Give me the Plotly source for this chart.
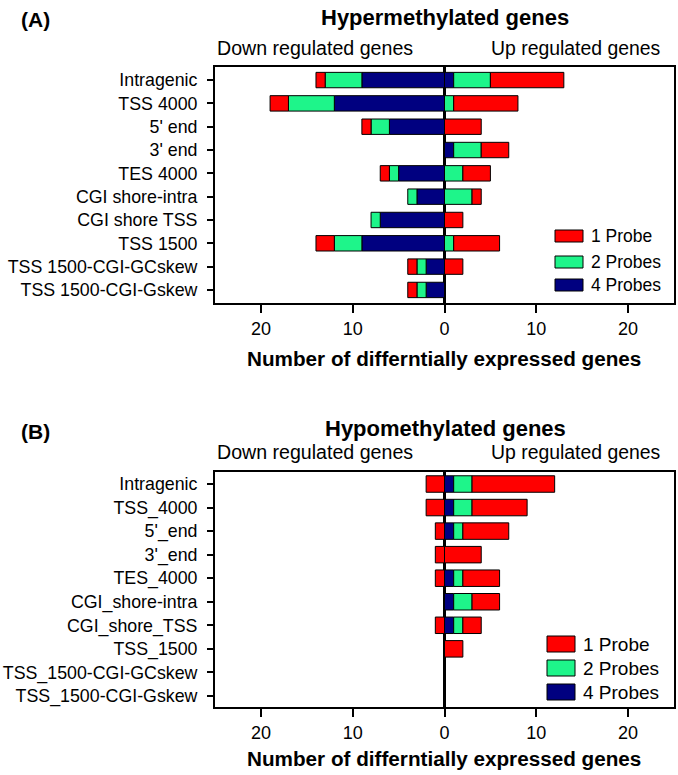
import plotly.graph_objects as go

# ---------------- data ----------------
categories_hyper = ["Intragenic", "TSS 4000", "5' end", "3' end", "TES 4000",
                    "CGI shore-intra", "CGI shore TSS", "TSS 1500",
                    "TSS 1500-CGI-GCskew", "TSS 1500-CGI-Gskew"]
hyper_down_4 = [9, 12, 6, 0, 5, 3, 7, 9, 2, 2]
hyper_down_2 = [4, 5, 2, 0, 1, 1, 1, 3, 1, 1]
hyper_down_1 = [1, 2, 1, 0, 1, 0, 0, 2, 1, 1]
hyper_up_4 = [1, 0, 0, 1, 0, 0, 0, 0, 0, 0]
hyper_up_2 = [4, 1, 0, 3, 2, 3, 0, 1, 0, 0]
hyper_up_1 = [8, 7, 4, 3, 3, 1, 2, 5, 2, 0]

categories_hypo = ["Intragenic", "TSS_4000", "5'_end", "3'_end", "TES_4000",
                   "CGI_shore-intra", "CGI_shore_TSS", "TSS_1500",
                   "TSS_1500-CGI-GCskew", "TSS_1500-CGI-Gskew"]
hypo_down_4 = [0, 0, 0, 0, 0, 0, 0, 0, 0, 0]
hypo_down_2 = [0, 0, 0, 0, 0, 0, 0, 0, 0, 0]
hypo_down_1 = [2, 2, 1, 1, 1, 0, 1, 0, 0, 0]
hypo_up_4 = [1, 1, 1, 0, 1, 1, 1, 0, 0, 0]
hypo_up_2 = [2, 2, 1, 0, 1, 2, 1, 0, 0, 0]
hypo_up_1 = [9, 6, 5, 4, 4, 3, 2, 2, 0, 0]

x_tickvals = [-20, -10, 0, 10, 20]
x_ticktext = ["20", "10", "0", "10", "20"]
series_names = ["1 Probe", "2 Probes", "4 Probes"]

# ---------------- style ----------------
W, H = 678, 775
RED, GREEN, BLUE = "#FF0000", "#1EF58A", "#000080"
COLORS = {"1 Probe": RED, "2 Probes": GREEN, "4 Probes": BLUE}
FONT = "Arial, Liberation Sans, sans-serif"


def px(x):
    return x / W


def py(y):
    return 1 - y / H


fig = go.Figure()


def add_panel(cats, d4, d2, d1, u4, u2, u1, xa, ya, width):
    # stacking order from zero outward: 4 probes, 2 probes, 1 probe
    for vals, name, sign in [(d4, "4 Probes", -1), (d2, "2 Probes", -1), (d1, "1 Probe", -1),
                             (u4, "4 Probes", 1), (u2, "2 Probes", 1), (u1, "1 Probe", 1)]:
        fig.add_trace(go.Bar(
            y=cats, x=[sign * v for v in vals], orientation="h", name=name,
            width=width, marker=dict(color=COLORS[name], line=dict(color="black", width=1)),
            xaxis=xa, yaxis=ya, showlegend=False,
        ))


add_panel(categories_hyper, hyper_down_4, hyper_down_2, hyper_down_1,
          hyper_up_4, hyper_up_2, hyper_up_1, "x", "y", 0.66)
add_panel(categories_hypo, hypo_down_4, hypo_down_2, hypo_down_1,
          hypo_up_4, hypo_up_2, hypo_up_1, "x2", "y2", 0.70)

xaxis_common = dict(
    range=[-25, 25], tickmode="array", tickvals=x_tickvals, ticktext=x_ticktext,
    ticks="outside", ticklen=8, tickwidth=2, tickcolor="black",
    showline=True, linecolor="black", linewidth=2, mirror=True,
    showgrid=False, zeroline=True, zerolinecolor="black", zerolinewidth=3,
    layer="above traces", tickfont=dict(family=FONT, size=18, color="black"),
    fixedrange=True,
)
yaxis_common = dict(
    type="category", ticks="outside", ticklen=6, tickwidth=2, tickcolor="black",
    showline=True, linecolor="black", linewidth=2, mirror=True, showgrid=False,
    tickfont=dict(family=FONT, size=17.8, color="black"), layer="above traces",
    ticklabelstandoff=6, fixedrange=True,
)

fig.update_layout(
    width=W, height=H, autosize=False,
    margin=dict(l=0, r=0, t=0, b=0),
    paper_bgcolor="white", plot_bgcolor="white",
    barmode="relative", showlegend=False,
    xaxis=dict(**xaxis_common, domain=[px(215), px(674)], anchor="y"),
    yaxis=dict(**yaxis_common, domain=[py(303), py(67)], anchor="x",
               range=[9.56, -0.56]),
    xaxis2=dict(**xaxis_common, domain=[px(215), px(674)], anchor="y2"),
    yaxis2=dict(**yaxis_common, domain=[py(707), py(472)], anchor="x2",
                range=[9.47, -0.51]),
)

annotations = []
shapes = []


def text(x, y, s, size, bold=False, xanchor="center"):
    annotations.append(dict(
        x=px(x), y=py(y), xref="paper", yref="paper", showarrow=False,
        text=("<b>%s</b>" % s) if bold else s, xanchor=xanchor, yanchor="middle",
        font=dict(family=FONT, size=size, color="black")))


# panel A texts
text(35, 20, "(A)", 21, bold=True)
text(445, 17, "Hypermethylated genes", 22, bold=True)
text(215, 48, "Down regulated genes", 19.6, xanchor="left")
text(662, 48, "Up regulated genes", 19.4, xanchor="right")
text(444, 358, "Number of differntially expressed genes", 20.7, bold=True)
# panel B texts
text(35, 432, "(B)", 21, bold=True)
text(445, 428, "Hypomethylated genes", 22, bold=True)
text(215, 452, "Down regulated genes", 19.6, xanchor="left")
text(662, 452, "Up regulated genes", 19.4, xanchor="right")
text(444, 758, "Number of differntially expressed genes", 20.7, bold=True)


def legend(x0, y_centers, bw, bh, tx, size):
    for name, yc in zip(series_names, y_centers):
        shapes.append(dict(type="rect", xref="paper", yref="paper",
                           x0=px(x0), x1=px(x0 + bw), y0=py(yc - bh / 2), y1=py(yc + bh / 2),
                           fillcolor=COLORS[name], line=dict(color="black", width=1)))
        text(tx, yc, name, size, xanchor="left")


legend(555, [236, 262, 285], 28, 12, 589, 17.5)
legend(547, [644, 668, 692], 28, 16, 581, 19)

fig.update_layout(annotations=annotations, shapes=shapes)

fig.write_html("out.html", config={"displayModeBar": False},
               post_script="document.body.style.margin='0';document.body.style.overflow='hidden';")
